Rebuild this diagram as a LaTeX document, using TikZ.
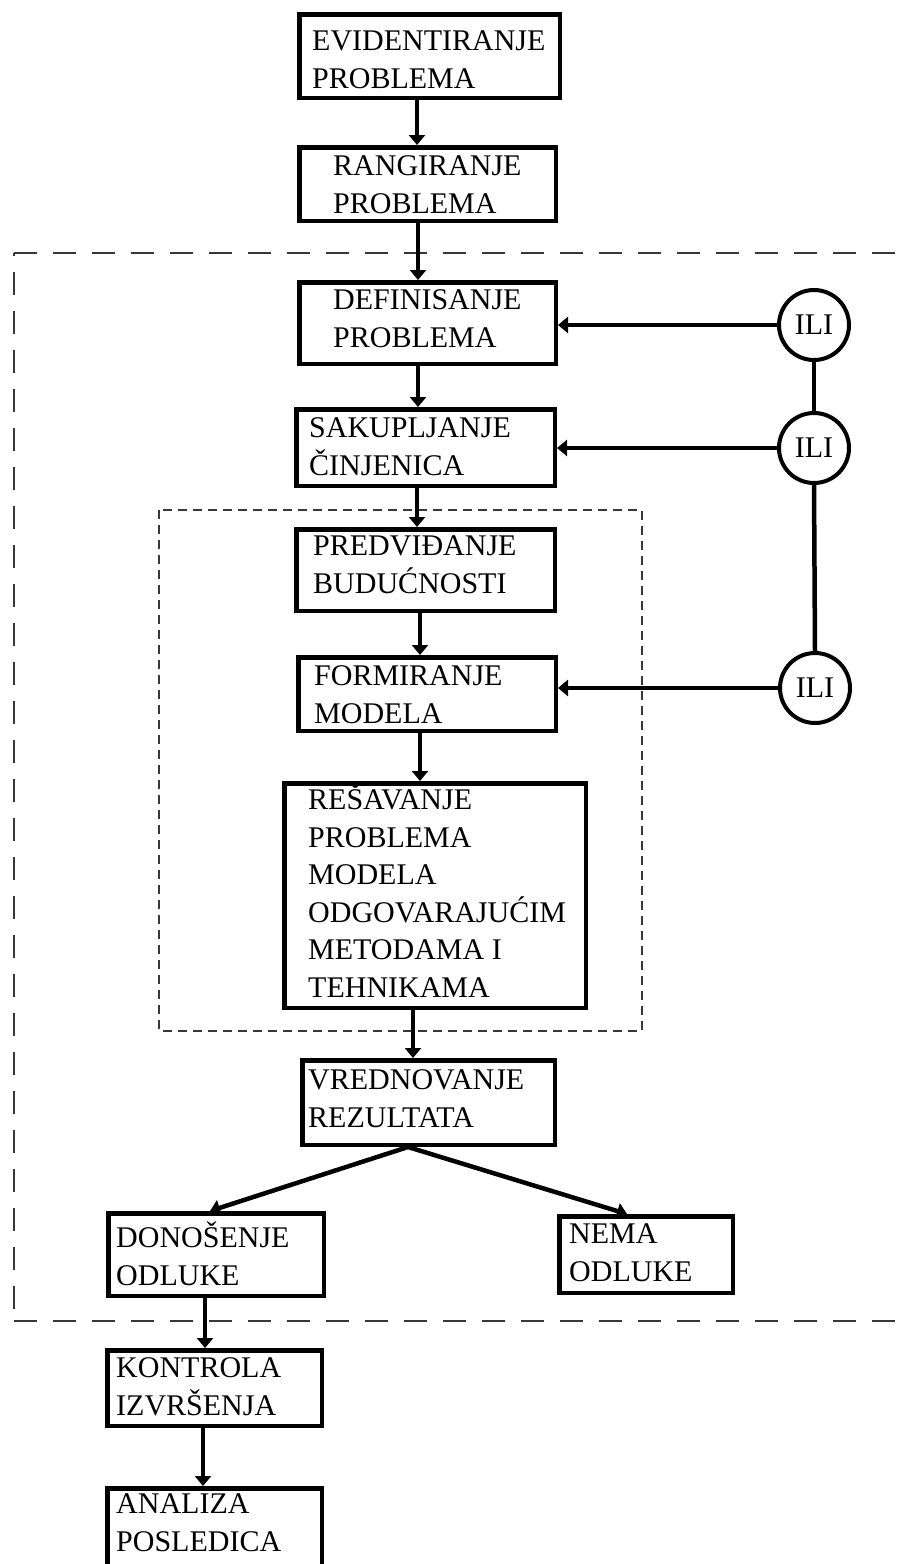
\documentclass[tikz,border=0pt]{standalone}
\usepackage{fontspec}
\setmainfont{Liberation Serif}
\usetikzlibrary{arrows.meta}
\begin{document}
\begin{tikzpicture}[x=1pt,y=-1pt,
  box/.style={draw=black, line width=4.5pt, rectangle, inner sep=0pt, anchor=north west},
  txt/.style={anchor=base west, align=left, inner sep=0pt, font=\fontsize{30}{37.5}\selectfont},
  ili/.style={draw=black, line width=4pt, circle, minimum size=70pt, inner sep=0pt, font=\fontsize{30}{37.5}\selectfont},
  arr/.style={line width=4.5pt, -{Triangle[width=16pt,length=10pt]}},
  link/.style={line width=4.5pt},
  outerdash/.style={draw=black!78, line width=2pt, dash pattern=on 23pt off 16pt},
  innerdash/.style={draw=black!78, line width=1.5pt, dash pattern=on 9pt off 6pt}]
\useasboundingbox (0,0) rectangle (906,1564);
\fill[white] (0,0) rectangle (906,1564);
\clip (0,0) rectangle (906,1564);

% dashed frames
\draw[outerdash] (14,253) -- (930,253);
\draw[outerdash] (14,1321) -- (930,1321);
\draw[outerdash, dash phase=20pt] (14,253) -- (14,1321);
\draw[innerdash] (159,510) rectangle (642,1031);

% boxes
\node[box, minimum width=260.5pt, minimum height=83.5pt] (EV) at (297,12) {};
\node[box, minimum width=256.5pt, minimum height=73.5pt] (RA) at (297,145) {};
\node[box, minimum width=256.5pt, minimum height=81.5pt] (DE) at (297,280) {};
\node[box, minimum width=258.5pt, minimum height=76.5pt] (SA) at (294,407) {};
\node[box, minimum width=258.5pt, minimum height=81.5pt] (PR) at (294,527) {};
\node[box, minimum width=257.5pt, minimum height=73.5pt] (FO) at (296,655) {};
\node[box, minimum width=301.5pt, minimum height=224.5pt] (RE) at (282,781) {};
\node[box, minimum width=252.5pt, minimum height=84.5pt] (VR) at (300,1058) {};
\node[box, minimum width=215.5pt, minimum height=82.5pt] (DO) at (106,1211) {};
\node[box, minimum width=173.5pt, minimum height=76.5pt] (NE) at (557,1214) {};
\node[box, minimum width=214.5pt, minimum height=75.5pt] (KO) at (105,1348) {};
\node[box, minimum width=214.5pt, minimum height=81.5pt] (AN) at (105,1486) {};

% texts (anchored at the baseline of the last line)
\node[txt] (tEV) at (312,88) {EVIDENTIRANJE\\PROBLEMA};
\node[txt] (tRA) at (333,213) {RANGIRANJE\\PROBLEMA};
\node[txt] (tDE) at (333,347) {DEFINISANJE\\PROBLEMA};
\node[txt] (tSA) at (309,475) {SAKUPLJANJE\\ČINJENICA};
\node[txt] (tPR) at (313,593) {PREDVIĐANJE\\BUDUĆNOSTI};
\node[txt] (tFO) at (314,723) {FORMIRANJE\\MODELA};
\node[txt] (tRE) at (308,997) {REŠAVANJE\\PROBLEMA\\MODELA\\ODGOVARAJUĆIM\\METODAMA I\\TEHNIKAMA};
\node[txt] (tVR) at (308,1127) {VREDNOVANJE\\REZULTATA};
\node[txt] (tDO) at (116,1285) {DONOŠENJE\\ODLUKE};
\node[txt] (tNE) at (569,1281) {NEMA\\ODLUKE};
\node[txt] (tKO) at (116,1415) {KONTROLA\\IZVRŠENJA};
\node[txt] (tAN) at (116,1551) {ANALIZA\\POSLEDICA};

% ILI circles
\node[ili] (I1) at (814,325) {ILI};
\node[ili] (I2) at (814,448) {ILI};
\node[ili] (I3) at (815,688) {ILI};
\draw[link] (I1.south) -- (I2.north);
\draw[link] (I2.south) -- (I3.north);
\draw[arr] (I1.west) -- (DE.east |- I1.west);
\draw[arr] (I2.west) -- (SA.east |- I2.west);
\draw[arr] (I3.west) -- (FO.east |- I3.west);

% vertical flow
\draw[arr] (EV.south -| 417,0) -- (RA.north -| 417,0);
\draw[arr] (RA.south -| 418,0) -- (DE.north -| 418,0);
\draw[arr] (DE.south -| 418,0) -- (SA.north -| 418,0);
\draw[arr] (SA.south -| 417,0) -- (PR.north -| 417,0);
\draw[arr] (PR.south -| 420,0) -- (FO.north -| 420,0);
\draw[arr] (FO.south -| 420,0) -- (RE.north -| 420,0);
\draw[arr] (RE.south -| 413,0) -- (VR.north -| 413,0);
\coordinate (br) at (VR.south -| 408,0);
\draw[line width=4.5pt, line join=miter, {Triangle[width=16pt,length=10pt]}-{Triangle[width=16pt,length=10pt]}] (DO.north -| 210,0) -- (br) -- (NE.north -| 627,0);
\draw[arr] (DO.south -| 205,0) -- (KO.north -| 205,0);
\draw[arr] (KO.south -| 203,0) -- (AN.north -| 203,0);
\end{tikzpicture}
\end{document}
